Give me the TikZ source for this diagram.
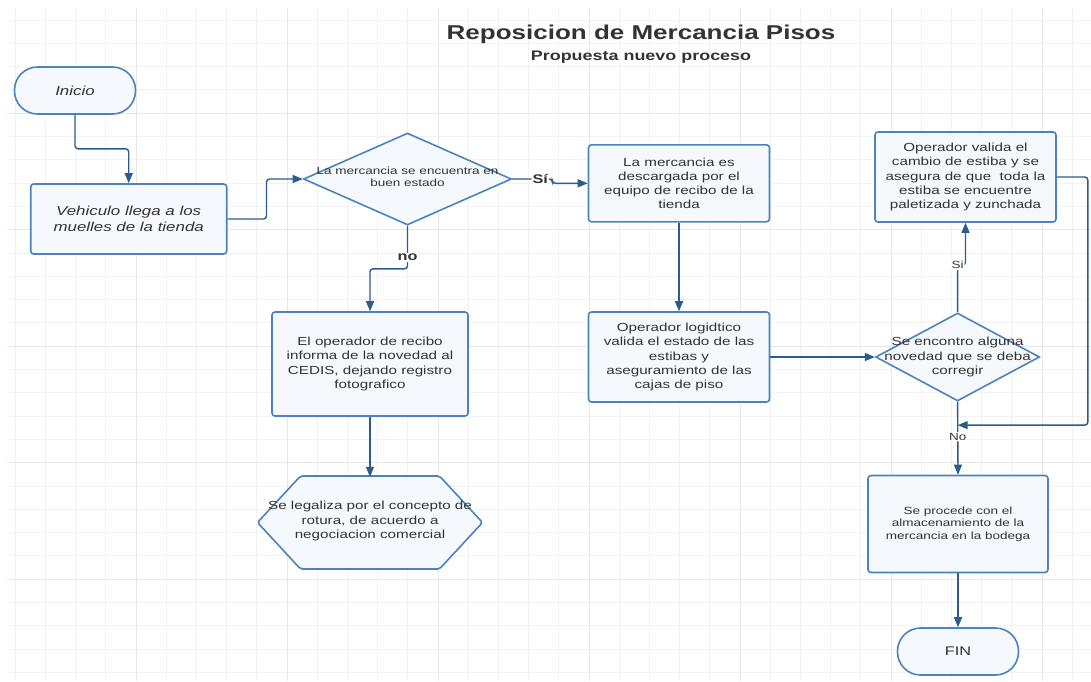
\documentclass[tikz,border=0pt]{standalone}
\usepackage{fontspec}
\setmainfont{Liberation Sans}[FakeStretch=1.3]
\usetikzlibrary{shapes.geometric,arrows.meta,calc}

\definecolor{lineblue}{HTML}{2C5B8C}
\definecolor{boxblue}{HTML}{4C83BC}
\definecolor{boxfill}{HTML}{F5F9FE}
\definecolor{txtgray}{HTML}{333333}
\definecolor{gridminor}{HTML}{F2F2F2}
\definecolor{gridmajor}{HTML}{E7E7E7}

\tikzset{
  gridline/.style={draw=gridminor, line width=1pt},
  gridbold/.style={draw=gridmajor, line width=1pt},
  proc/.style={draw=boxblue, fill=boxfill, line width=1.6pt, rounded corners=3pt,
    align=center, text=txtgray, inner sep=0pt, font=\fontsize{11.7}{14.2}\selectfont},
  term/.style={proc, rounded corners=23pt, minimum width=121pt, minimum height=47pt},
  decision/.style={diamond, draw=boxblue, fill=boxfill, line width=1.6pt, inner sep=0pt},
  dtext/.style={align=center, text=txtgray, font=\fontsize{11.7}{14.2}\selectfont},
  hexline/.style={draw=boxblue, fill=boxfill, line width=1.6pt, rounded corners=2pt},
  flow/.style={draw=lineblue, line width=1.4pt, rounded corners=3pt,
    -{Triangle[length=10pt,width=8pt]}},
  yesno/.style={fill=white, inner sep=1pt, text=txtgray, font=\bfseries\fontsize{12.5}{14}\selectfont},
  yesnosmall/.style={fill=white, inner sep=1pt, text=txtgray, font=\fontsize{10.4}{12}\selectfont},
}

\begin{document}
\begin{tikzpicture}[x=1pt, y=-1pt]

        \fill[white] (0,0) rectangle (1091,681);
        \useasboundingbox (0,0) rectangle (1091,681);

        %%% grid %%%
        \foreach \i in {0,...,35}{ \draw[gridline] ({15.2+30.2*\i},8) -- ++(0,673); }
        \foreach \j in {0,...,28}{ \draw[gridline] (7,{20+23.3*\j}) -- (1091,{20+23.3*\j}); }
        \foreach \x in {136,287,438,589,740,891,1042}{ \draw[gridbold] (\x,8) -- ++(0,673); }
        \foreach \y in {113.2,229.7,346.2,462.7,579.2}{ \draw[gridbold] (7,\y) -- (1091,\y); }

        %%% titulo %%%
        \node[anchor=base, text=txtgray, font=\bfseries\fontsize{20}{24}\selectfont] (titulo) at (641,39.3) {Reposicion de Mercancia Pisos};
        \node[anchor=base, text=txtgray, font=\bfseries\fontsize{13.8}{16}\selectfont] (subtitulo) at (641,60.7) {Propuesta nuevo proceso};

        %%% columna 1 %%%
        \node[term, font=\itshape\fontsize{13}{15.7}\selectfont] (inicio) at (75,90.5) {Inicio};
        \node[proc, minimum width=196pt, minimum height=70pt, font=\itshape\fontsize{13}{15.7}\selectfont] (vehiculo) at (128.7,219) {Vehiculo llega a los\\muelles de la tienda};

        %%% columna 2 %%%
        \node[decision, minimum width=208pt, minimum height=92pt,
          label={[dtext, font=\fontsize{10.4}{12.3}\selectfont, yshift=2pt]center:{La mercancia se encuentra en\\buen estado}}] (estado) at (407.5,179) {};
        \node[proc, minimum width=196pt, minimum height=104pt] (informa) at (370,364) {El operador de recibo\\informa de la novedad al\\CEDIS, dejando registro\\fotografico};
        \coordinate (hx) at (370,522.5);
        \draw[hexline] (hx) ++(-112.5,0) -- ++(43,-46.5) -- ++(139,0) -- ++(43,46.5) -- ++(-43,46.5) -- ++(-139,0) -- cycle;
        \node[dtext] (legaliza) at (370,521) {Se legaliza por el concepto de\\rotura, de acuerdo a\\negociacion comercial};

        %%% columna 3 %%%
        \node[proc, minimum width=181pt, minimum height=77pt] (descarga) at (679,183.3) {La mercancia es\\descargada por el\\equipo de recibo de la\\tienda};
        \node[proc, minimum width=181pt, minimum height=90pt] (valida) at (679,357) {Operador logidtico\\valida el estado de las\\estibas y\\aseguramiento de las\\cajas de piso};

        %%% columna 4 %%%
        \node[proc, minimum width=181pt, minimum height=90pt] (cambio) at (965.5,177) {Operador valida el\\cambio de estiba y se\\asegura de que\ \ toda la\\estiba se encuentre\\paletizada y zunchada};
        \node[decision, minimum width=164pt, minimum height=88pt,
          label={[dtext]center:{Se encontro alguna\\novedad que se deba\\corregir}}] (novedad) at (957.6,357) {};
        \node[proc, minimum width=180pt, minimum height=97pt, font=\fontsize{10.4}{12.7}\selectfont] (almacena) at (958,524) {Se procede con el\\almacenamiento de la\\mercancia en la bodega};
        \node[term, font=\fontsize{12.5}{15}\selectfont] (fin) at (958,651.5) {FIN};
        \coordinate (union) at ($(novedad.south)!0.32!(almacena.north)$);

        %%% conectores %%%
        \draw[flow] (inicio.south) -- ++(0,34) -| (vehiculo.north);
        \draw[flow] (vehiculo.east) -- ++(39,0) |- (estado.west);
        \draw[flow] (estado.east) -- node[pos=.7, yesno] {Sí} ++(40,0) |- (descarga.west);
        \draw[flow] (estado.south) -- node[pos=.74, yesno] {no} ++(0,43) -| (informa.north);
        \draw[flow] (informa.south) -- ++(0,60);
        \draw[flow] (descarga.south) -- (valida.north);
        \draw[flow] (valida.east) -- (novedad.west);
        \draw[flow] (novedad.north) -- ++(0,-47) node[yesnosmall] {Si} -| (cambio.south);
        \draw[flow] (cambio.east) -- ++(31,0) |- (union);
        \draw[flow] (novedad.south) -- node[pos=.48, yesnosmall] {No} (almacena.north);
        \draw[flow] (almacena.south) -- (fin.north);

\end{tikzpicture}
\end{document}
